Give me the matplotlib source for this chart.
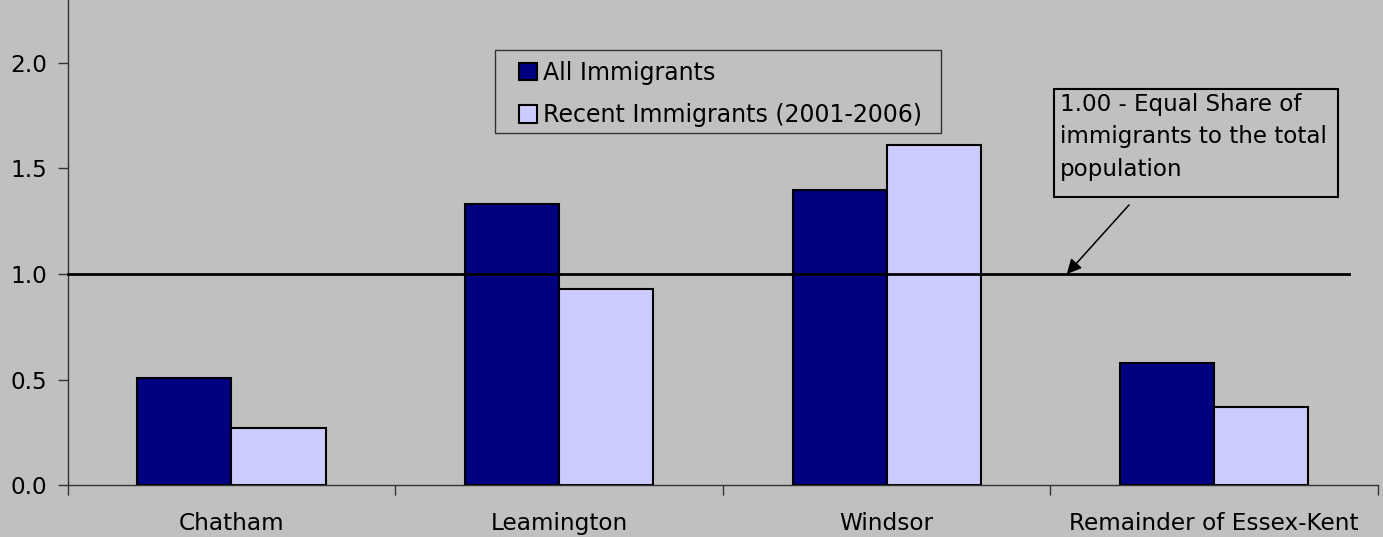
import numpy as np
import matplotlib.pyplot as plt
from matplotlib.patches import Patch, Rectangle

plt.rcParams['font.family'] = ['DejaVu Sans']

# data
regions = ['Chatham', 'Leamington', 'Windsor', 'Remainder of Essex-Kent']
all_immigrants = [0.51, 1.33, 1.40, 0.58]
recent_immigrants = [0.27, 0.93, 1.61, 0.37]
series_names = ['All Immigrants', 'Recent Immigrants (2001-2006)']
y_ticks = [0.0, 0.5, 1.0, 1.5, 2.0]
note = '1.00 - Equal Share of\nimmigrants to the total\npopulation'

bg = '#C0C0C0'
c_all = '#000080'
c_recent = '#CCCCFF'

W, H = 1383, 537
fig = plt.figure(figsize=(W / 100, H / 100), dpi=100, facecolor=bg)
ax = fig.add_axes([67.7 / W, (H - 485.3) / H, 1310.3 / W, 485.3 / H])
ax.set_facecolor(bg)


def fx(px):
    return px / W


def fy(py):
    return 1 - py / H


x = np.arange(len(regions))
bw = 0.287
ax.bar(x - bw / 2, all_immigrants, bw, color=c_all, edgecolor='black', linewidth=1.5, zorder=2)
ax.bar(x + bw / 2, recent_immigrants, bw, color=c_recent, edgecolor='black', linewidth=1.5, zorder=2)

# reference line at 1.0
ax.plot([-0.5, 3.41], [1.0, 1.0], color='black', linewidth=2, zorder=3, clip_on=False)

ax.set_xlim(-0.5, 3.5)
ax.set_ylim(0, 2.297)

for s in ['top', 'right']:
    ax.spines[s].set_visible(False)
for s in ['left', 'bottom']:
    ax.spines[s].set_color('#333333')
    ax.spines[s].set_linewidth(1)

ax.set_yticks(y_ticks)
ax.set_yticklabels([f'{v:.1f}' for v in y_ticks])
ax.tick_params(axis='y', direction='out', length=7, width=1, color='#333333',
               pad=7.5, labelsize=16.7)

ax.set_xticks(x)
ax.set_xticklabels(regions)
ax.tick_params(axis='x', which='major', length=0, pad=19.5, labelsize=16.7)
ax.set_xticks(np.arange(-0.5, len(regions), 1.0), minor=True)
ax.tick_params(axis='x', which='minor', direction='out', length=7, width=1, color='#333333')

# legend, frame drawn separately to get the uneven padding
fig.patches.append(Rectangle((fx(495), fy(133)), fx(941) - fx(495), fy(50) - fy(133),
                             transform=fig.transFigure, facecolor=bg,
                             edgecolor='#333333', linewidth=1, zorder=1))
handles = [Patch(facecolor=c_all, edgecolor='black', linewidth=1.5),
           Patch(facecolor=c_recent, edgecolor='black', linewidth=1.5)]
fig.legend(handles, series_names, loc='upper left',
           bbox_to_anchor=(fx(519), fy(61)), borderaxespad=0, borderpad=0,
           fontsize=17, frameon=False, handlelength=0.76, handleheight=0.76,
           handletextpad=0.27, labelspacing=0.78)

# annotation box
fig.patches.append(Rectangle((fx(1054), fy(197)), fx(1338) - fx(1054), fy(89) - fy(197),
                             transform=fig.transFigure, facecolor=bg,
                             edgecolor='black', linewidth=1.5, zorder=1))
fig.text(fx(1060), fy(93), note, ha='left', va='top', fontsize=16.6,
         linespacing=1.52)

ax.annotate('', xy=(2.55, 1.0), xytext=(2.74, 1.327),
            arrowprops=dict(arrowstyle='-|>', color='black', linewidth=1.1,
                            mutation_scale=22, shrinkA=0, shrinkB=0))

fig.savefig('out.png', dpi=100, facecolor=bg)
